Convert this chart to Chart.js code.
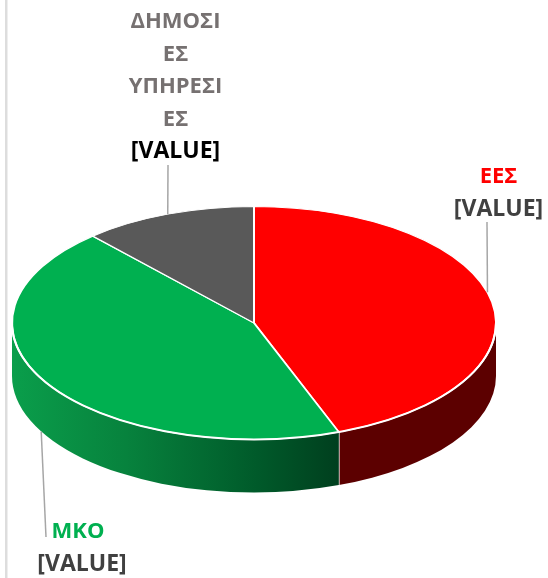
<!DOCTYPE html>
<html>
<head>
<meta charset="utf-8">
<style>
  html, body { margin: 0; padding: 0; background: #fff; }
  #wrap { position: relative; width: 548px; height: 578px; }
</style>
<script src="https://cdn.jsdelivr.net/npm/chart.js@4"></script>
</head>
<body>
<div id="wrap"><canvas id="pie3d"></canvas></div>
<script>
var categories = ['ΕΕΣ', 'ΜΚΟ', 'ΔΗΜΟΣΙΕΣ ΥΠΗΡΕΣΙΕΣ'];
var values = [44.3, 44.1, 11.6];
var sliceColors = ['#FF0000', '#00B050', '#595959'];
var valueText = '[VALUE]';

// wrapped the way the original label box wraps them
var labelLines = [['ΕΕΣ'], ['ΜΚΟ'], ['ΔΗΜΟΣΙ', 'ΕΣ', 'ΥΠΗΡΕΣΙ', 'ΕΣ']];
var labelColors = ['#FF0000', '#00B050', '#767171'];
var valueColors = ['#404040', '#404040', '#000000'];

var SQUASH = 116.5 / 242;
var DEPTH = 53;
var LABEL_FONT = 'bold 22px "Open Sans"';
var VALUE_FONT = 'bold 23px "Open Sans"';
var LINE_HEIGHT = 32.5;

// name centre x, value centre x, first baseline y, leader end, nudge of the leader root in degrees
var labelBoxes = [
  {nameX: 498.5, x: 498.5, y: 183, endX: 487, endY: 222, nudge: -5, wall: false},
  {nameX: 78, x: 82, y: 538, endX: 46, endY: 537, nudge: 2.7, wall: true},
  {nameX: 175.5, x: 175.5, y: 28, endX: 168, endY: 165, nudge: 0, wall: false}
];

function wallFill(ctx, index) {
  if (index === 0) return '#5C0000';
  if (index === 2) return '#3A3A3A';
  var g = ctx.createLinearGradient(12, 0, 339, 0);
  g.addColorStop(0, '#0A9E4B');
  g.addColorStop(0.35, '#07823D');
  g.addColorStop(0.75, '#005A2A');
  g.addColorStop(1, '#003F1E');
  return g;
}

var pie3dPlugin = {
  id: 'pie3d',
  beforeDraw: function(chart) {
    var ctx = chart.ctx;
    ctx.save();
    ctx.fillStyle = '#DDDDDD';
    ctx.fillRect(5, 0, 2.5, chart.height);
    ctx.restore();
  },
  beforeDatasetsDraw: function(chart) {
    var ctx = chart.ctx;
    var arcs = chart.getDatasetMeta(0).data;
    var cx = arcs[0].x, cy = arcs[0].y, rx = arcs[0].outerRadius, ry = rx * SQUASH;

    // side wall, only the part of each slice facing the viewer
    arcs.forEach(function(arc, i) {
      var a = Math.max(arc.startAngle, 0);
      var b = Math.min(arc.endAngle, Math.PI);
      if (b <= a) return;
      ctx.beginPath();
      ctx.ellipse(cx, cy, rx, ry, 0, a, b);
      ctx.ellipse(cx, cy + DEPTH, rx, ry, 0, b, a, true);
      ctx.closePath();
      ctx.fillStyle = wallFill(ctx, i);
      ctx.fill();
      // white seam where a slice ends on the front
      if (arc.endAngle > 0 && arc.endAngle < Math.PI) {
        var sx = cx + rx * Math.cos(arc.endAngle);
        var sy = cy + ry * Math.sin(arc.endAngle);
        ctx.beginPath();
        ctx.moveTo(sx, sy);
        ctx.lineTo(sx, sy + DEPTH);
        ctx.strokeStyle = '#FFFFFF';
        ctx.lineWidth = 1.5;
        ctx.stroke();
      }
    });

    ctx.save();
    ctx.translate(cx, cy);
    ctx.scale(1, SQUASH);
    ctx.translate(-cx, -cy);
  },
  afterDatasetsDraw: function(chart) {
    var ctx = chart.ctx;
    ctx.restore();

    var arcs = chart.getDatasetMeta(0).data;
    var cx = arcs[0].x, cy = arcs[0].y, rx = arcs[0].outerRadius, ry = rx * SQUASH;

    // the squash thins the border along the front rim, so go over it again
    ctx.beginPath();
    ctx.ellipse(cx, cy, rx, ry, 0, 0, Math.PI);
    ctx.strokeStyle = '#FFFFFF';
    ctx.lineWidth = 2;
    ctx.stroke();

    arcs.forEach(function(arc, i) {
      var box = labelBoxes[i];
      var mid = (arc.startAngle + arc.endAngle) / 2 + box.nudge * Math.PI / 180;
      var rootX = cx + rx * Math.cos(mid);
      var rootY = cy + ry * Math.sin(mid) + (box.wall ? DEPTH : 0);

      ctx.beginPath();
      ctx.moveTo(rootX, rootY);
      ctx.lineTo(box.endX, box.endY);
      ctx.strokeStyle = '#A6A6A6';
      ctx.lineWidth = 1.5;
      ctx.stroke();

      ctx.textAlign = 'center';
      ctx.textBaseline = 'alphabetic';
      var y = box.y;
      ctx.font = LABEL_FONT;
      ctx.fillStyle = labelColors[i];
      labelLines[i].forEach(function(line) {
        ctx.fillText(line, box.nameX, y);
        y += LINE_HEIGHT;
      });
      ctx.font = VALUE_FONT;
      ctx.fillStyle = valueColors[i];
      ctx.fillText(valueText, box.x, y);
    });
  }
};

var chart_pie3d = new Chart(document.getElementById('pie3d'), {
  type: 'pie',
  data: {
    labels: categories,
    datasets: [{
      data: values,
      backgroundColor: sliceColors,
      borderColor: '#FFFFFF',
      borderWidth: 2
    }]
  },
  options: {
    animation: false,
    responsive: true,
    maintainAspectRatio: false,
    layout: {
      padding: {left: 11, right: 51, top: 80, bottom: 12}
    },
    plugins: {
      legend: {display: false},
      title: {display: false},
      tooltip: {enabled: false}
    }
  },
  plugins: [pie3dPlugin]
});
</script>
</body>
</html>
